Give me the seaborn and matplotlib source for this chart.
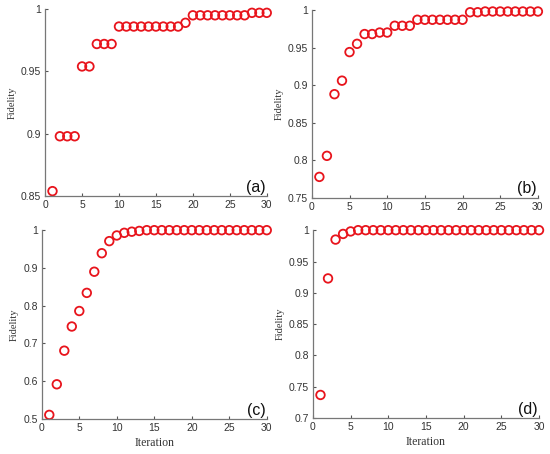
import matplotlib.pyplot as plt
import numpy as np
import pandas as pd
import seaborn as sns

iterations = np.arange(1, 31)

fidelity_a = [0.854, 0.898, 0.898, 0.898, 0.954, 0.954, 0.972, 0.972, 0.972,
              0.986, 0.986, 0.986, 0.986, 0.986, 0.986, 0.986, 0.986, 0.986,
              0.989, 0.995, 0.995, 0.995, 0.995, 0.995, 0.995, 0.995, 0.995,
              0.997, 0.997, 0.997]
fidelity_b = [0.778, 0.806, 0.888, 0.906, 0.944, 0.955, 0.968, 0.968, 0.970,
              0.970, 0.979, 0.979, 0.979, 0.987, 0.987, 0.987, 0.987, 0.987,
              0.987, 0.987, 0.997, 0.997, 0.998, 0.998, 0.998, 0.998, 0.998,
              0.998, 0.998, 0.998]
fidelity_c = [0.511, 0.592, 0.681, 0.745, 0.786, 0.834, 0.890, 0.939, 0.971,
              0.986, 0.993, 0.996, 0.998, 1.0, 1.0, 1.0, 1.0, 1.0, 1.0, 1.0,
              1.0, 1.0, 1.0, 1.0, 1.0, 1.0, 1.0, 1.0, 1.0, 1.0]
fidelity_d = [0.737, 0.923, 0.985, 0.994, 0.998] + [1.0] * 25

panels = ['(a)', '(b)', '(c)', '(d)']
series = [fidelity_a, fidelity_b, fidelity_c, fidelity_d]
y_limits = [(0.85, 1.0), (0.75, 1.0), (0.5, 1.0), (0.7, 1.0)]
y_ticks = [[0.85, 0.9, 0.95, 1.0],
           [0.75, 0.8, 0.85, 0.9, 0.95, 1.0],
           [0.5, 0.6, 0.7, 0.8, 0.9, 1.0],
           [0.7, 0.75, 0.8, 0.85, 0.9, 0.95, 1.0]]
y_labels = [['0.85', '0.9', '0.95', '1'],
            ['0.75', '0.8', '0.85', '0.9', '0.95', '1'],
            ['0.5', '0.6', '0.7', '0.8', '0.9', '1'],
            ['0.7', '0.75', '0.8', '0.85', '0.9', '0.95', '1']]
x_ticks = [0, 5, 10, 15, 20, 25, 30]

sns.set_style('white')
plt.rcParams['font.family'] = ['Liberation Sans', 'DejaVu Sans']

fig = plt.figure(figsize=(5.5, 4.54), dpi=100)
positions = [[0.082, 0.568, 0.403, 0.412],
             [0.567, 0.564, 0.411, 0.414],
             [0.076, 0.077, 0.409, 0.416],
             [0.569, 0.079, 0.411, 0.414]]

for i, (label, values) in enumerate(zip(panels, series)):
    ax = fig.add_axes(positions[i])
    df = pd.DataFrame({'Iteration': iterations, 'Fidelity': values})
    sns.scatterplot(data=df, x='Iteration', y='Fidelity', ax=ax,
                    marker='o', s=38, facecolor='none',
                    edgecolor='#e8141c', linewidth=1.3, clip_on=False)
    ax.set_xlim(0, 30)
    ax.set_ylim(*y_limits[i])
    ax.set_xticks(x_ticks)
    ax.set_yticks(y_ticks[i])
    ax.set_yticklabels(y_labels[i])
    ax.tick_params(bottom=True, left=True, direction='in', length=2,
                   width=0.8, colors='#555555', labelcolor='#333333',
                   labelsize=7.5, pad=3)
    for side in ['top', 'right']:
        ax.spines[side].set_visible(False)
    for side in ['left', 'bottom']:
        ax.spines[side].set_color('#777777')
        ax.spines[side].set_linewidth(0.9)
    ax.set_ylabel('Fidelity', family='Liberation Serif', fontsize=7.5,
                  color='#333333', labelpad=3)
    if i >= 2:
        ax.set_xlabel('Iteration', family='Liberation Serif', fontsize=8.5,
                      color='#333333', labelpad=3)
    else:
        ax.set_xlabel('')
    ax.text(0.995, 0.008, label, transform=ax.transAxes, ha='right',
            va='bottom', fontsize=11.5, color='#111111')

plt.savefig('out.png', dpi=100)
